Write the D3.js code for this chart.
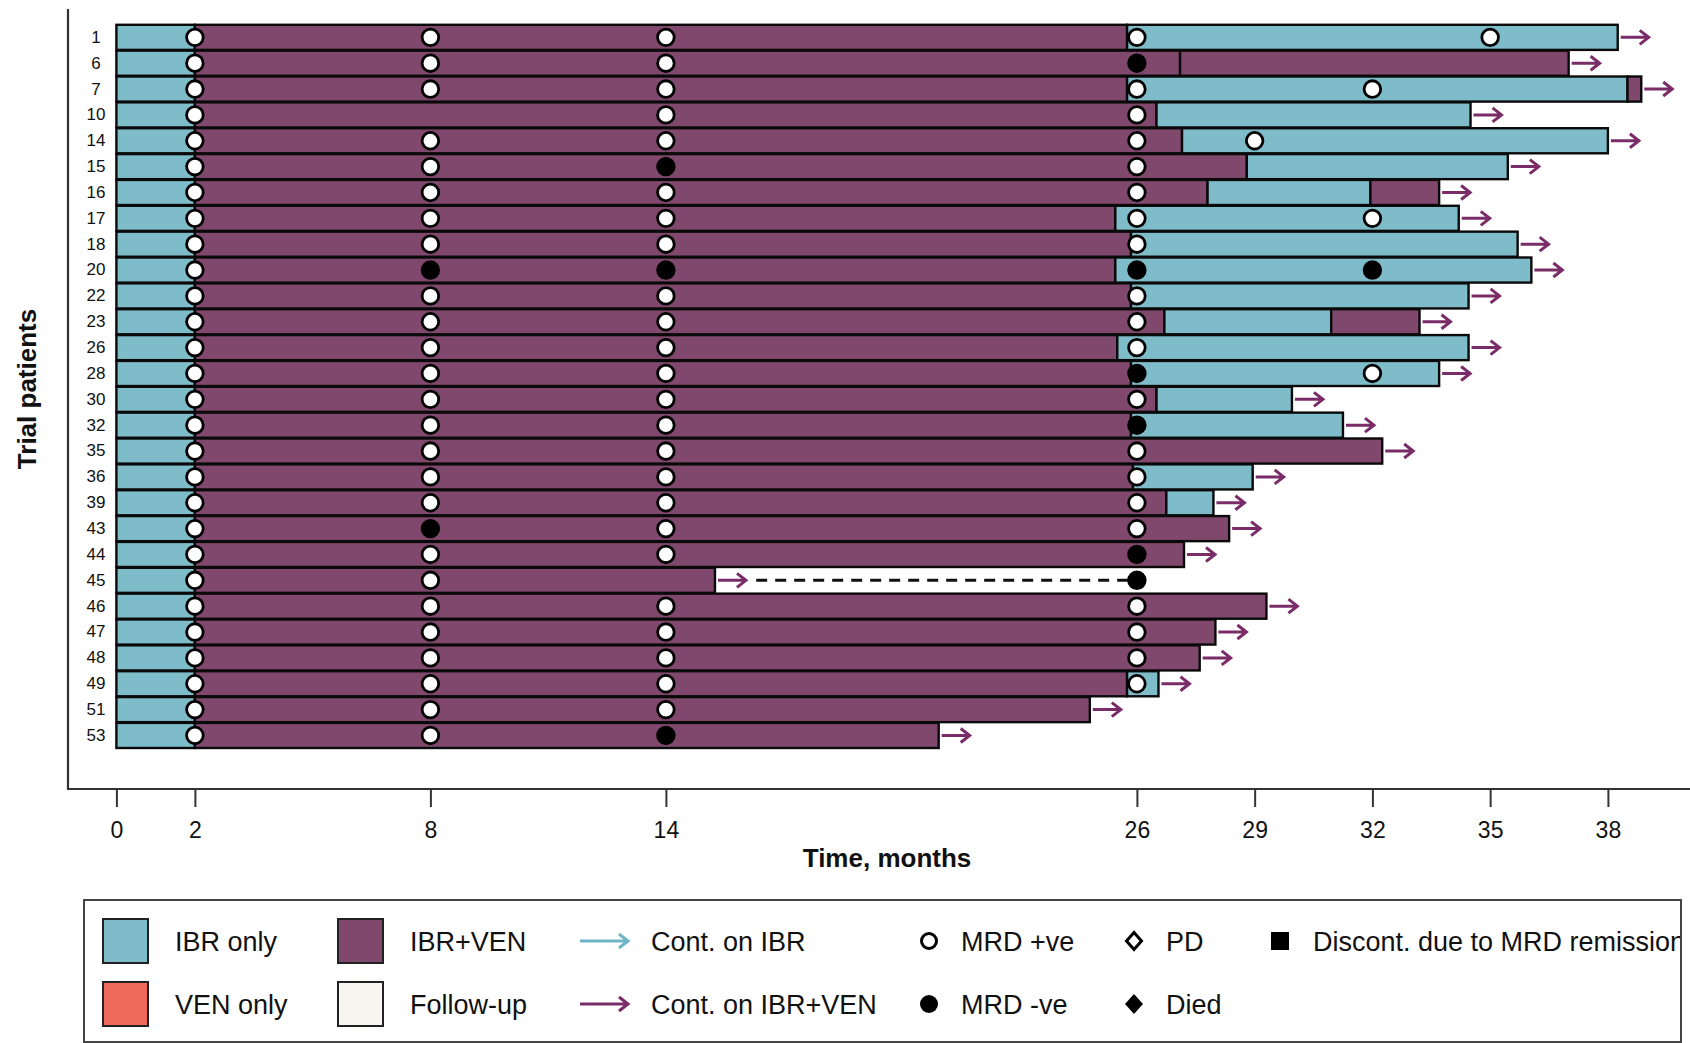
<!DOCTYPE html>
<html>
<head>
<meta charset="utf-8">
<script src="https://cdn.jsdelivr.net/npm/d3@7"></script>
<style>
  body { margin: 0; background: #fff; }
  svg { display: block; font-family: "Liberation Sans", Arial, sans-serif; }
</style>
</head>
<body>
<div id="chart"></div>
<script>

// trial patients, top to bottom
var patients = ["1", "6", "7", "10", "14", "15", "16", "17", "18", "20", "22", "23", "26", "28",
                "30", "32", "35", "36", "39", "43", "44", "45", "46", "47", "48", "49", "51", "53"];

// treatment phases per patient: [start, end, treatment], months
var phases = [
    [[0, 2, "IBR"], [2, 25.75, "IBR+VEN"], [25.75, 38.25, "IBR"]],
    [[0, 2, "IBR"], [2, 27.1, "IBR+VEN"], [27.1, 37, "IBR+VEN"]],
    [[0, 2, "IBR"], [2, 25.75, "IBR+VEN"], [25.75, 38.5, "IBR"], [38.5, 38.85, "IBR+VEN"]],
    [[0, 2, "IBR"], [2, 26.5, "IBR+VEN"], [26.5, 34.5, "IBR"]],
    [[0, 2, "IBR"], [2, 27.15, "IBR+VEN"], [27.15, 38, "IBR"]],
    [[0, 2, "IBR"], [2, 28.8, "IBR+VEN"], [28.8, 35.45, "IBR"]],
    [[0, 2, "IBR"], [2, 27.8, "IBR+VEN"], [27.8, 31.95, "IBR"], [31.95, 33.7, "IBR+VEN"]],
    [[0, 2, "IBR"], [2, 25.45, "IBR+VEN"], [25.45, 34.2, "IBR"]],
    [[0, 2, "IBR"], [2, 25.85, "IBR+VEN"], [25.85, 35.7, "IBR"]],
    [[0, 2, "IBR"], [2, 25.45, "IBR+VEN"], [25.45, 36.05, "IBR"]],
    [[0, 2, "IBR"], [2, 25.85, "IBR+VEN"], [25.85, 34.45, "IBR"]],
    [[0, 2, "IBR"], [2, 26.7, "IBR+VEN"], [26.7, 30.95, "IBR"], [30.95, 33.2, "IBR+VEN"]],
    [[0, 2, "IBR"], [2, 25.5, "IBR+VEN"], [25.5, 34.45, "IBR"]],
    [[0, 2, "IBR"], [2, 25.85, "IBR+VEN"], [25.85, 33.7, "IBR"]],
    [[0, 2, "IBR"], [2, 26.5, "IBR+VEN"], [26.5, 29.95, "IBR"]],
    [[0, 2, "IBR"], [2, 25.85, "IBR+VEN"], [25.85, 31.25, "IBR"]],
    [[0, 2, "IBR"], [2, 32.25, "IBR+VEN"]],
    [[0, 2, "IBR"], [2, 25.9, "IBR+VEN"], [25.9, 28.95, "IBR"]],
    [[0, 2, "IBR"], [2, 26.75, "IBR+VEN"], [26.75, 27.95, "IBR"]],
    [[0, 2, "IBR"], [2, 28.35, "IBR+VEN"]],
    [[0, 2, "IBR"], [2, 27.2, "IBR+VEN"]],
    [[0, 2, "IBR"], [2, 15.25, "IBR+VEN"]],
    [[0, 2, "IBR"], [2, 29.3, "IBR+VEN"]],
    [[0, 2, "IBR"], [2, 28, "IBR+VEN"]],
    [[0, 2, "IBR"], [2, 27.6, "IBR+VEN"]],
    [[0, 2, "IBR"], [2, 25.75, "IBR+VEN"], [25.75, 26.55, "IBR"]],
    [[0, 2, "IBR"], [2, 24.8, "IBR+VEN"]],
    [[0, 2, "IBR"], [2, 20.95, "IBR+VEN"]]
];

// MRD assessments (months)
var mrdPos = [
    [2, 8, 14, 26, 35], [2, 8, 14], [2, 8, 14, 26, 32], [2, 14, 26], [2, 8, 14, 26, 29],
    [2, 8, 26], [2, 8, 14, 26], [2, 8, 14, 26, 32], [2, 8, 14, 26], [2],
    [2, 8, 14, 26], [2, 8, 14, 26], [2, 8, 14, 26], [2, 8, 14, 32], [2, 8, 14, 26],
    [2, 8, 14], [2, 8, 14, 26], [2, 8, 14, 26], [2, 8, 14, 26], [2, 14, 26],
    [2, 8, 14], [2, 8], [2, 8, 14, 26], [2, 8, 14, 26], [2, 8, 14, 26],
    [2, 8, 14, 26], [2, 8, 14], [2, 8]
];
var mrdNeg = [
    [], [26], [], [], [], [14], [], [], [], [8, 14, 26, 32],
    [], [], [], [26], [], [26], [], [], [], [8],
    [26], [26], [], [], [], [], [], [14]
];

// follow-up off treatment (dashed): [patient, from, to]
var followUp = [["45", 16.3, 26]];

var xTicks = [0, 2, 8, 14, 26, 29, 32, 35, 38];

var legendFills = [
    {label: "IBR only", color: "#7fbcc9", col: 0, row: 0},
    {label: "IBR+VEN", color: "#80486c", col: 1, row: 0},
    {label: "VEN only", color: "#ef6a5a", col: 0, row: 1},
    {label: "Follow-up", color: "#f8f4ef", col: 1, row: 1}
];
var legendArrows = [
    {label: "Cont. on IBR", color: "#6fb5c5", row: 0},
    {label: "Cont. on IBR+VEN", color: "#7a2c69", row: 1}
];
var legendSymbols = [
    {label: "MRD +ve", shape: "circle", filled: false, col: 0, row: 0},
    {label: "MRD -ve", shape: "circle", filled: true, col: 0, row: 1},
    {label: "PD", shape: "diamond", filled: false, col: 1, row: 0},
    {label: "Died", shape: "diamond", filled: true, col: 1, row: 1},
    {label: "Discont. due to MRD remission", shape: "square", filled: true, col: 2, row: 0}
];

var colors = {"IBR": "#7fbcc9", "IBR+VEN": "#80486c", "VEN": "#ef6a5a"};
var arrowColor = "#7a2c69";

var W = 1690, H = 1043;

var svg = d3.select("#chart").append("svg")
    .attr("width", W)
    .attr("height", H);

svg.append("rect").attr("width", W).attr("height", H).attr("fill", "#fff");

var x = d3.scaleLinear().domain([0, 38]).range([116.4, 116.4 + 38 * 39.25]);
var y = d3.scaleBand().domain(patients).range([24.8, 748]).paddingInner(0.03);

var axisY = 789;

// axes frame
svg.append("line")
    .attr("x1", 68).attr("x2", 68)
    .attr("y1", 9).attr("y2", axisY)
    .attr("stroke", "#333").attr("stroke-width", 2.2);
svg.append("line")
    .attr("x1", 67).attr("x2", W)
    .attr("y1", axisY).attr("y2", axisY)
    .attr("stroke", "#333").attr("stroke-width", 2.2);

var xg = svg.append("g")
    .attr("transform", "translate(0," + axisY + ")")
    .call(d3.axisBottom(x).tickValues(xTicks).tickSize(18).tickPadding(15).tickFormat(d3.format("d")));
xg.select(".domain").remove();
xg.selectAll(".tick line").attr("stroke", "#333").attr("stroke-width", 2);
xg.selectAll(".tick text").attr("font-size", 23).attr("fill", "#111")
    .attr("font-family", "Liberation Sans, Arial, sans-serif");

// patient labels, centred in the gutter
var yg = svg.append("g")
    .attr("transform", "translate(96,0)")
    .call(d3.axisLeft(y).tickSize(0).tickPadding(0));
yg.select(".domain").remove();
yg.selectAll(".tick text")
    .attr("text-anchor", "middle")
    .attr("font-size", 17).attr("fill", "#111")
    .attr("font-family", "Liberation Sans, Arial, sans-serif");

svg.append("text")
    .attr("x", 887).attr("y", 867)
    .attr("text-anchor", "middle")
    .attr("font-size", 26).attr("font-weight", "bold").attr("fill", "#111")
    .text("Time, months");

svg.append("text")
    .attr("transform", "translate(36,389) rotate(-90)")
    .attr("text-anchor", "middle")
    .attr("font-size", 26).attr("font-weight", "bold").attr("fill", "#111")
    .text("Trial patients");

// bars
var rows = patients.map(function(p, i) {
    return {id: p, phases: phases[i], pos: mrdPos[i], neg: mrdNeg[i]};
});

var segs = [];
rows.forEach(function(r) {
    r.phases.forEach(function(s) { segs.push({id: r.id, start: s[0], end: s[1], type: s[2]}); });
});

var bars = svg.append("g").attr("id", "lay-bars");
bars.selectAll("rect")
    .data(segs)
    .enter().append("rect")
    .attr("x", function(d) { return x(d.start); })
    .attr("y", function(d) { return y(d.id); })
    .attr("width", function(d) { return x(d.end) - x(d.start); })
    .attr("height", y.bandwidth())
    .attr("fill", function(d) { return colors[d.type]; })
    .attr("stroke", "#0a0a0a")
    .attr("stroke-width", 2.4);

// continuing-treatment arrows
function arrowPath(x0, x1, yc) {
    return "M" + x0 + "," + yc + "L" + x1 + "," + yc
        + "M" + (x1 - 9) + "," + (yc - 7) + "L" + x1 + "," + yc + "L" + (x1 - 9) + "," + (yc + 7);
}

var arrows = svg.append("g").attr("id", "lay-arrows");
arrows.selectAll("path")
    .data(rows)
    .enter().append("path")
    .attr("d", function(d) {
        var end = d.phases[d.phases.length - 1][1];
        var yc = y(d.id) + y.bandwidth() / 2;
        return arrowPath(x(end) + 3, x(end) + 31, yc);
    })
    .attr("fill", "none")
    .attr("stroke", arrowColor)
    .attr("stroke-width", 3);

// follow-up
svg.append("g").selectAll("line")
    .data(followUp)
    .enter().append("line")
    .attr("x1", function(d) { return x(d[1]); })
    .attr("x2", function(d) { return x(d[2]); })
    .attr("y1", function(d) { return y(d[0]) + y.bandwidth() / 2; })
    .attr("y2", function(d) { return y(d[0]) + y.bandwidth() / 2; })
    .attr("stroke", "#111")
    .attr("stroke-width", 3)
    .attr("stroke-dasharray", "11,8");

// MRD markers
var marks = [];
rows.forEach(function(r) {
    r.pos.forEach(function(t) { marks.push({id: r.id, t: t, neg: false}); });
    r.neg.forEach(function(t) { marks.push({id: r.id, t: t, neg: true}); });
});

svg.append("g").attr("id", "lay-mrd").selectAll("circle")
    .data(marks)
    .enter().append("circle")
    .attr("cx", function(d) { return x(d.t); })
    .attr("cy", function(d) { return y(d.id) + y.bandwidth() / 2; })
    .attr("r", 8.3)
    .attr("fill", function(d) { return d.neg ? "#000" : "#fff"; })
    .attr("stroke", "#000")
    .attr("stroke-width", 2.8);

/*---------------------
  ------- LEGEND ------
  ---------------------*/
var leg = {x: 84, y: 900, right: 1681, bottom: 1042, rowY: [941, 1004]};

svg.append("clipPath").attr("id", "legclip")
    .append("rect")
    .attr("x", leg.x).attr("y", leg.y)
    .attr("width", leg.right - leg.x).attr("height", leg.bottom - leg.y);

var lg = svg.append("g").attr("clip-path", "url(#legclip)");

var fillCols = [103, 338], fillText = [175, 410];
lg.selectAll("rect.sw")
    .data(legendFills)
    .enter().append("rect")
    .attr("class", "sw")
    .attr("x", function(d) { return fillCols[d.col]; })
    .attr("y", function(d) { return leg.rowY[d.row] - 22; })
    .attr("width", 45).attr("height", 44)
    .attr("fill", function(d) { return d.color; })
    .attr("stroke", "#222").attr("stroke-width", 2);

lg.selectAll("path.la")
    .data(legendArrows)
    .enter().append("path")
    .attr("class", "la")
    .attr("d", function(d) { return arrowPath(580, 628, leg.rowY[d.row]); })
    .attr("fill", "none")
    .attr("stroke", function(d) { return d.color; })
    .attr("stroke-width", 3);

var symCols = [929, 1134, 1280], symText = [961, 1166, 1313];
// simple shapes centred on 0,0
function symbolPath(shape, filled) {
    if (shape == "circle") {
        var r = filled ? 9 : 7.5;
        return d3.symbol().type(d3.symbolCircle).size(Math.PI * r * r)();
    } else if (shape == "diamond") {
        var w = filled ? 9 : 7.5, h = filled ? 10 : 8.5;
        return "M0," + (-h) + "L" + w + ",0L0," + h + "L" + (-w) + ",0Z";
    }
    return d3.symbol().type(d3.symbolSquare).size(18 * 18)();
}
lg.selectAll("path.sym")
    .data(legendSymbols)
    .enter().append("path")
    .attr("class", "sym")
    .attr("transform", function(d) {
        return "translate(" + symCols[d.col] + "," + leg.rowY[d.row] + ")";
    })
    .attr("d", function(d) { return symbolPath(d.shape, d.filled); })
    .attr("fill", function(d) { return d.filled ? "#000" : "#fff"; })
    .attr("stroke", "#000")
    .attr("stroke-width", function(d) { return d.filled ? 0 : 3; });

var legTexts = []
    .concat(legendFills.map(function(d) { return {label: d.label, x: fillText[d.col], row: d.row}; }))
    .concat(legendArrows.map(function(d) { return {label: d.label, x: 651, row: d.row}; }))
    .concat(legendSymbols.map(function(d) { return {label: d.label, x: symText[d.col], row: d.row}; }));

lg.selectAll("text")
    .data(legTexts)
    .enter().append("text")
    .attr("x", function(d) { return d.x; })
    .attr("y", function(d) { return leg.rowY[d.row]; })
    .attr("dy", "0.36em")
    .attr("font-size", 27)
    .attr("fill", "#111")
    .text(function(d) { return d.label; });

svg.append("rect")
    .attr("x", leg.x).attr("y", leg.y)
    .attr("width", leg.right - leg.x).attr("height", leg.bottom - leg.y)
    .attr("fill", "none")
    .attr("stroke", "#444").attr("stroke-width", 2);

</script>
</body>
</html>
